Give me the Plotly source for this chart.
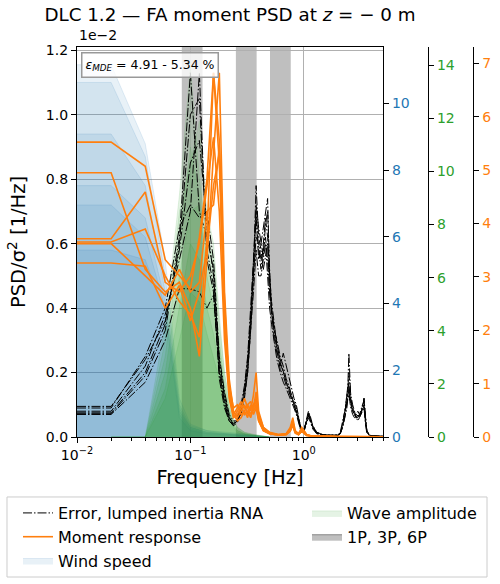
import plotly.graph_objects as go

# ---------------- data (PSD values in units of 1e-2 1/Hz) ----------------
F_ERR = [0.01, 0.02, 0.04, 0.06, 0.08, 0.10, 0.12, 0.14, 0.16, 0.18,
         0.20, 0.22, 0.24, 0.26, 0.28, 0.30, 0.32, 0.34, 0.36, 0.38,
         0.40, 0.42, 0.44, 0.46, 0.48, 0.50, 0.52, 0.55, 0.58, 0.62,
         0.66, 0.70, 0.74, 0.78, 0.82, 0.86, 0.90, 0.95, 1.00, 1.05,
         1.10, 1.15, 1.20, 1.30, 1.45, 1.60, 1.80, 2.00, 2.10, 2.20,
         2.30, 2.40, 2.45, 2.50, 2.55, 2.60, 2.70, 2.80, 2.90, 3.00,
         3.10, 3.20, 3.30, 3.40, 3.50, 3.60, 3.80, 4.00, 4.50, 5.00]

ERR_1 = [0.075, 0.075, 0.20, 0.35, 0.62, 1.13, 0.70, 0.62, 0.52, 0.22,
         0.12, 0.06, 0.04, 0.05, 0.08, 0.14, 0.22, 0.35, 0.52, 0.78,
         0.62, 0.58, 0.52, 0.56, 0.60, 0.45, 0.38, 0.30, 0.26, 0.22,
         0.26, 0.22, 0.18, 0.15, 0.12, 0.10, 0.06, 0.02, 0.02, 0.05,
         0.075, 0.06, 0.035, 0.015, 0.008, 0.006, 0.005, 0.006, 0.012, 0.035,
         0.07, 0.12, 0.16, 0.26, 0.15, 0.12, 0.09, 0.08, 0.06, 0.07,
         0.06, 0.08, 0.09, 0.12, 0.05, 0.02, 0.006, 0.004, 0.003, 0.002]
ERR_2 = [0.08, 0.08, 0.22, 0.38, 0.55, 0.70, 1.13, 0.55, 0.45, 0.20,
         0.10, 0.05, 0.035, 0.06, 0.10, 0.16, 0.25, 0.40, 0.55, 0.68,
         0.55, 0.60, 0.64, 0.70, 0.74, 0.50, 0.42, 0.35, 0.28, 0.24,
         0.20, 0.17, 0.15, 0.13, 0.10, 0.08, 0.05, 0.015, 0.015, 0.04,
         0.07, 0.05, 0.03, 0.012, 0.006, 0.005, 0.004, 0.005, 0.01, 0.03,
         0.06, 0.10, 0.13, 0.14, 0.12, 0.10, 0.08, 0.07, 0.07, 0.08,
         0.07, 0.07, 0.10, 0.11, 0.06, 0.02, 0.005, 0.003, 0.002, 0.002]
ERR_3 = [0.09, 0.09, 0.25, 0.40, 0.65, 0.72, 0.68, 0.70, 0.55, 0.25,
         0.14, 0.07, 0.05, 0.05, 0.09, 0.15, 0.24, 0.38, 0.50, 0.62,
         0.60, 0.55, 0.58, 0.62, 0.55, 0.45, 0.40, 0.32, 0.27, 0.21,
         0.19, 0.16, 0.14, 0.12, 0.10, 0.08, 0.05, 0.02, 0.02, 0.045,
         0.065, 0.055, 0.03, 0.012, 0.007, 0.005, 0.004, 0.005, 0.012, 0.04,
         0.08, 0.11, 0.14, 0.17, 0.13, 0.11, 0.08, 0.07, 0.06, 0.06,
         0.07, 0.08, 0.08, 0.10, 0.05, 0.015, 0.005, 0.003, 0.002, 0.002]
ERR_4 = [0.07, 0.07, 0.17, 0.30, 0.46, 0.46, 0.45, 0.40, 0.44, 0.20,
         0.11, 0.05, 0.04, 0.05, 0.07, 0.12, 0.20, 0.32, 0.45, 0.58,
         0.50, 0.50, 0.55, 0.60, 0.50, 0.40, 0.35, 0.30, 0.24, 0.20,
         0.17, 0.15, 0.13, 0.11, 0.09, 0.07, 0.045, 0.015, 0.015, 0.04,
         0.06, 0.045, 0.025, 0.01, 0.006, 0.005, 0.004, 0.005, 0.01, 0.03,
         0.06, 0.09, 0.12, 0.13, 0.11, 0.09, 0.07, 0.06, 0.06, 0.05,
         0.06, 0.07, 0.08, 0.09, 0.04, 0.012, 0.004, 0.003, 0.002, 0.002]
ERR_5 = [0.095, 0.095, 0.24, 0.36, 0.58, 0.85, 0.92, 0.66, 0.50, 0.24,
         0.13, 0.06, 0.045, 0.05, 0.09, 0.13, 0.20, 0.33, 0.50, 0.72,
         0.65, 0.60, 0.56, 0.66, 0.70, 0.52, 0.40, 0.33, 0.30, 0.25,
         0.22, 0.18, 0.16, 0.13, 0.11, 0.09, 0.06, 0.025, 0.02, 0.05,
         0.08, 0.06, 0.035, 0.015, 0.008, 0.006, 0.005, 0.006, 0.015, 0.045,
         0.08, 0.13, 0.15, 0.20, 0.16, 0.13, 0.10, 0.08, 0.07, 0.065,
         0.07, 0.09, 0.10, 0.11, 0.06, 0.02, 0.006, 0.004, 0.003, 0.002]
ERR_6 = [0.072, 0.072, 0.19, 0.33, 0.60, 1.00, 1.05, 0.58, 0.47, 0.18,
         0.09, 0.05, 0.035, 0.045, 0.08, 0.13, 0.21, 0.36, 0.55, 0.70,
         0.58, 0.52, 0.60, 0.68, 0.62, 0.48, 0.38, 0.34, 0.29, 0.23,
         0.20, 0.17, 0.14, 0.12, 0.10, 0.08, 0.055, 0.02, 0.018, 0.045,
         0.07, 0.05, 0.03, 0.012, 0.007, 0.005, 0.004, 0.005, 0.012, 0.035,
         0.07, 0.11, 0.12, 0.15, 0.13, 0.11, 0.09, 0.07, 0.06, 0.07,
         0.065, 0.08, 0.09, 0.12, 0.05, 0.015, 0.005, 0.003, 0.002, 0.002]
ERR_SERIES = [ERR_1, ERR_2, ERR_3, ERR_4, ERR_5, ERR_6]

F_MOM = [0.01, 0.02, 0.04, 0.06, 0.08, 0.10, 0.12, 0.14, 0.16, 0.18,
         0.20, 0.22, 0.24, 0.26, 0.28, 0.30, 0.32, 0.34, 0.36, 0.38,
         0.40, 0.44, 0.50, 0.60, 0.70, 0.76, 0.80, 0.84, 0.90, 0.96,
         1.00, 1.06, 1.16, 1.30, 1.60, 2.00, 3.00, 5.00]
MOM_1 = [0.915, 0.915, 0.84, 0.55, 0.50, 0.46, 0.62, 0.80, 1.13, 0.92,
         0.42, 0.14, 0.07, 0.09, 0.11, 0.09, 0.10, 0.08, 0.13, 0.20,
         0.08, 0.03, 0.015, 0.008, 0.01, 0.03, 0.06, 0.02, 0.01, 0.03,
         0.02, 0.008, 0.004, 0.002, 0.002, 0.002, 0.001, 0.001]
MOM_2 = [0.82, 0.82, 0.52, 0.45, 0.48, 0.40, 0.25, 0.55, 0.88, 1.13,
         0.45, 0.18, 0.08, 0.06, 0.08, 0.10, 0.07, 0.09, 0.10, 0.12,
         0.06, 0.025, 0.012, 0.006, 0.008, 0.02, 0.04, 0.015, 0.008, 0.02,
         0.015, 0.006, 0.003, 0.002, 0.002, 0.001, 0.001, 0.001]
MOM_3 = [0.615, 0.615, 0.76, 0.48, 0.45, 0.50, 0.60, 0.78, 0.93, 0.70,
         0.30, 0.12, 0.06, 0.07, 0.09, 0.12, 0.09, 0.07, 0.09, 0.14,
         0.07, 0.03, 0.012, 0.007, 0.01, 0.025, 0.05, 0.018, 0.01, 0.025,
         0.02, 0.007, 0.003, 0.002, 0.002, 0.001, 0.001, 0.001]
MOM_4 = [0.605, 0.605, 0.645, 0.50, 0.42, 0.38, 0.31, 0.62, 1.13, 0.85,
         0.38, 0.16, 0.09, 0.10, 0.07, 0.08, 0.10, 0.11, 0.08, 0.10,
         0.05, 0.02, 0.01, 0.006, 0.008, 0.02, 0.045, 0.015, 0.008, 0.02,
         0.015, 0.006, 0.003, 0.002, 0.002, 0.001, 0.001, 0.001]
MOM_5 = [0.60, 0.60, 0.50, 0.44, 0.52, 0.45, 0.48, 0.70, 0.72, 0.90,
         0.40, 0.15, 0.07, 0.05, 0.06, 0.08, 0.06, 0.10, 0.07, 0.09,
         0.05, 0.02, 0.01, 0.006, 0.008, 0.018, 0.04, 0.015, 0.008, 0.018,
         0.012, 0.005, 0.003, 0.002, 0.002, 0.001, 0.001, 0.001]
MOM_6 = [0.54, 0.54, 0.53, 0.40, 0.47, 0.36, 0.45, 0.58, 0.78, 0.88,
         0.35, 0.13, 0.06, 0.08, 0.10, 0.07, 0.08, 0.06, 0.09, 0.11,
         0.06, 0.02, 0.01, 0.006, 0.008, 0.02, 0.035, 0.012, 0.007, 0.018,
         0.012, 0.005, 0.003, 0.002, 0.002, 0.001, 0.001, 0.001]
MOM_SERIES = [MOM_1, MOM_2, MOM_3, MOM_4, MOM_5, MOM_6]

F_WIND = [0.01, 0.02, 0.04, 0.06, 0.08, 0.10, 0.14, 0.20, 0.30, 0.50]
WIND_1 = [1.155, 1.155, 0.91, 0.55, 0.12, 0.04, 0.02, 0.015, 0.01, 0.0]
WIND_2 = [1.10, 1.10, 0.87, 0.50, 0.10, 0.035, 0.02, 0.012, 0.008, 0.0]
WIND_3 = [0.94, 0.94, 0.78, 0.45, 0.09, 0.03, 0.015, 0.01, 0.006, 0.0]
WIND_4 = [0.78, 0.78, 0.68, 0.42, 0.08, 0.03, 0.015, 0.01, 0.005, 0.0]
WIND_5 = [0.72, 0.72, 0.62, 0.40, 0.07, 0.025, 0.012, 0.008, 0.004, 0.0]
WIND_6 = [0.58, 0.58, 0.55, 0.38, 0.06, 0.02, 0.01, 0.006, 0.003, 0.0]
WIND_SERIES = [WIND_1, WIND_2, WIND_3, WIND_4, WIND_5, WIND_6]

F_WAVE = [0.02, 0.04, 0.06, 0.08, 0.10, 0.12, 0.14, 0.16, 0.18, 0.20,
          0.22, 0.24, 0.26, 0.30, 0.36, 0.44, 0.50]
WAVE_1 = [0, 0, 0.35, 0.75, 1.15, 0.80, 0.62, 0.55, 0.35, 0.20, 0.10, 0.05, 0.03, 0.015, 0.008, 0.004, 0]
WAVE_2 = [0, 0, 0.30, 0.70, 0.85, 0.98, 0.70, 0.60, 0.38, 0.20, 0.12, 0.06, 0.03, 0.015, 0.008, 0.004, 0]
WAVE_3 = [0, 0, 0.25, 0.60, 0.90, 0.75, 0.55, 0.45, 0.30, 0.17, 0.09, 0.05, 0.025, 0.012, 0.006, 0.003, 0]
WAVE_4 = [0, 0, 0.20, 0.50, 0.70, 0.72, 0.50, 0.40, 0.28, 0.15, 0.08, 0.04, 0.02, 0.01, 0.005, 0.002, 0]
WAVE_5 = [0, 0, 0.15, 0.40, 0.60, 0.55, 0.40, 0.32, 0.22, 0.12, 0.07, 0.035, 0.02, 0.01, 0.005, 0.002, 0]
WAVE_6 = [0, 0, 0.12, 0.30, 0.45, 0.42, 0.32, 0.25, 0.18, 0.10, 0.06, 0.03, 0.015, 0.008, 0.004, 0.002, 0]
WAVE_SERIES = [WAVE_1, WAVE_2, WAVE_3, WAVE_4, WAVE_5, WAVE_6]

ROTOR_1P = [0.084, 0.128]          # Hz, rotor frequency range
HARMONICS = [1, 3, 6]

Y_TICKS = [0.0, 0.2, 0.4, 0.6, 0.8, 1.0, 1.2]
X_TICKS = [0.01, 0.1, 1.0]
X_TICKTEXT = ["10<sup>\u22122</sup>", "10<sup>\u22121</sup>", "10<sup>0</sup>"]
WIND_TICKS = [0, 2, 4, 6, 8, 10]
WAVE_TICKS = [0, 2, 4, 6, 8, 10, 12, 14]
MOM_TICKS = [0, 1, 2, 3, 4, 5, 6, 7]
MDE_RANGE = [4.91, 5.34]

# ---------------- figure ----------------
FONT = "DejaVu Sans"
BLUE, GREEN, ORANGE = "#1f77b4", "#2ca02c", "#ff7f0e"
GRAY_FILL = "rgba(128,128,128,0.5)"

fig = go.Figure()

for i, s in enumerate(WIND_SERIES):
    fig.add_trace(go.Scatter(
        x=F_WIND, y=s, mode="lines", fill="tozeroy",
        fillcolor="rgba(31,119,180,0.10)", line=dict(color="rgba(31,119,180,0.12)", width=1),
        name="Wind speed", legendgroup="wind", showlegend=(i == 0),
        legend="legend", legendrank=3, hoverinfo="skip"))

for i, s in enumerate(WAVE_SERIES):
    fig.add_trace(go.Scatter(
        x=F_WAVE, y=s, mode="lines", fill="tozeroy",
        fillcolor="rgba(44,160,44,0.12)", line=dict(color="rgba(44,160,44,0.12)", width=1),
        name="Wave amplitude", legendgroup="wave", showlegend=(i == 0),
        legend="legend2", legendrank=4, hoverinfo="skip"))

for i, s in enumerate(ERR_SERIES):
    fig.add_trace(go.Scatter(
        x=F_ERR, y=s, mode="lines",
        line=dict(color="black", width=1, dash="9px,2px,1.5px,2px"),
        name="Error, lumped inertia RNA", legendgroup="err", showlegend=(i == 0),
        legend="legend", legendrank=1, hoverinfo="skip"))

for i, s in enumerate(MOM_SERIES):
    fig.add_trace(go.Scatter(
        x=F_MOM, y=s, mode="lines",
        line=dict(color=ORANGE, width=1.6),
        name="Moment response", legendgroup="mom", showlegend=(i == 0),
        legend="legend", legendrank=2, hoverinfo="skip"))

# rotor harmonic bands (drawn under the grid), legend entry via a legend-only trace
for h in HARMONICS:
    fig.add_shape(type="rect", xref="x", yref="y domain",
                  x0=h * ROTOR_1P[0], x1=h * ROTOR_1P[1], y0=0, y1=1,
                  fillcolor=GRAY_FILL, line=dict(width=0), layer="below")
fig.add_trace(go.Scatter(x=[None], y=[None], mode="lines", fill="toself",
                         fillcolor=GRAY_FILL, line=dict(color="rgba(80,80,80,0.6)", width=1),
                         name="1P, 3P, 6P", legend="legend2", legendrank=5, hoverinfo="skip"))

# secondary axes carriers (no data drawn)
for ax in ["y2", "y3", "y4"]:
    fig.add_trace(go.Scatter(x=[], y=[], yaxis=ax, showlegend=False, hoverinfo="skip"))

# legend frame (drawn as a rectangle in paper coordinates)
fig.add_shape(type="rect", xref="paper", yref="paper",
              x0=-0.1737, x1=1.0174, y0=-0.359, y1=-0.1538,
              line=dict(color="#cccccc", width=1), fillcolor="rgba(255,255,255,0)", layer="above")

axis_common = dict(showline=True, linecolor="black", linewidth=1.3, ticks="outside",
                   ticklen=5, tickwidth=1.1, tickcolor="black",
                   tickfont=dict(family=FONT, size=14, color="black"), zeroline=False,
                   automargin=False)

fig.update_layout(
    width=500, height=584,
    margin=dict(l=77, r=20, t=47, b=147, autoexpand=False),
    paper_bgcolor="white", plot_bgcolor="white",
    font=dict(family=FONT, size=14, color="black"),
    title=dict(text="DLC 1.2 \u2014 FA moment PSD at <i>z</i> = \u2212 0 m",
               x=0.46, xanchor="center", y=1 - 15 / 584, yanchor="middle",
               xref="container", yref="container", font=dict(family=FONT, size=18.3)),
    xaxis=dict(type="log", range=[-2, 0.69897], domain=[0, 0.7593],
               tickvals=X_TICKS, ticktext=X_TICKTEXT, mirror=True,
               showgrid=True, gridcolor="#b0b0b0", gridwidth=1.3,
               minor=dict(ticks="outside", ticklen=3, tickwidth=1, tickcolor="black",
                          tickvals=[m * 10.0 ** e for e in (-2, -1, 0) for m in range(2, 10) if m * 10.0 ** e <= 5],
                          showgrid=False),
               title=dict(text="Frequency [Hz]", font=dict(family=FONT, size=19.5), standoff=8),
               **axis_common),
    yaxis=dict(range=[0, 1.21], tickvals=Y_TICKS, ticktext=["%.1f" % v for v in Y_TICKS],
               mirror=True, showgrid=True, gridcolor="#b0b0b0", gridwidth=1.3,
               title=dict(text="PSD/\u03c3<sup>2</sup> [1/Hz]", font=dict(family=FONT, size=19.5), standoff=14),
               **axis_common),
    yaxis2=dict(overlaying="y", side="right", anchor="x", range=[0, 11.69],
                tickvals=WIND_TICKS, showgrid=False,
                **{**axis_common, "tickfont": dict(family=FONT, size=14, color=BLUE)}),
    yaxis3=dict(overlaying="y", side="right", anchor="free", position=0.871, range=[0, 14.68],
                tickvals=WAVE_TICKS, showgrid=False,
                **{**axis_common, "tickfont": dict(family=FONT, size=14, color=GREEN)}),
    yaxis4=dict(overlaying="y", side="right", anchor="free", position=0.9834, range=[0, 7.305],
                tickvals=MOM_TICKS, showgrid=False,
                **{**axis_common, "tickfont": dict(family=FONT, size=14, color=ORANGE)}),
    legend=dict(x=-0.1464, y=-0.1513, xanchor="left", yanchor="top", bgcolor="rgba(0,0,0,0)",
                font=dict(family=FONT, size=16), itemwidth=30, traceorder="normal"),
    legend2=dict(x=0.5707, y=-0.1513, xanchor="left", yanchor="top", bgcolor="rgba(0,0,0,0)",
                 font=dict(family=FONT, size=16), itemwidth=30, traceorder="normal"),
    showlegend=True,
)

fig.add_annotation(xref="paper", yref="paper", x=0, y=1, xanchor="left", yanchor="bottom",
                   yshift=2, text="1e\u22122", showarrow=False, font=dict(family=FONT, size=14))

fig.add_annotation(xref="paper", yref="paper", x=0.01, y=0.987, xanchor="left", yanchor="top",
                   text="<i>\u03b5<sub>MDE</sub></i> = %.2f - %.2f %%" % (MDE_RANGE[0], MDE_RANGE[1]),
                   showarrow=False, font=dict(family=FONT, size=12.5),
                   bgcolor="rgba(255,255,255,0.8)", bordercolor="#999999", borderwidth=1.5, borderpad=3)

fig.write_html("out.html", config={"displayModeBar": False},
               post_script="document.body.style.margin='0';")
